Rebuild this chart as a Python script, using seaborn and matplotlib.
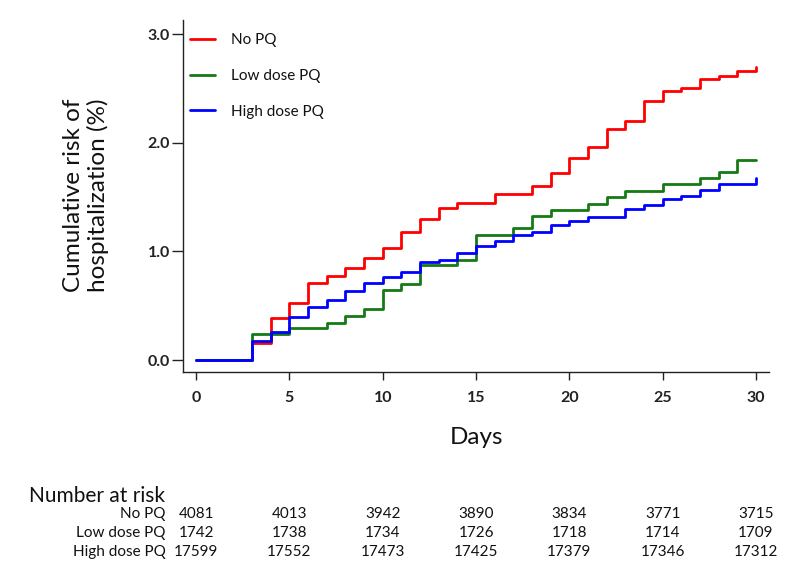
import numpy as np
import pandas as pd
import matplotlib
matplotlib.use('Agg')
from matplotlib import pyplot as plt
from matplotlib import transforms
from matplotlib.ticker import FormatStrFormatter
import seaborn as sns


# cumulative risk (%) read at the end of each day, 0..30
days = list(range(0, 31))
no_pq = [0, 0, 0, 0.153, 0.383, 0.527, 0.705, 0.773, 0.85, 0.94, 1.033,
         1.18, 1.297, 1.395, 1.45, 1.45, 1.53, 1.53, 1.606, 1.725, 1.863,
         1.965, 2.123, 2.198, 2.38, 2.475, 2.502, 2.588, 2.615, 2.66, 2.70]
low_dose = [0, 0, 0, 0.236, 0.236, 0.297, 0.297, 0.343, 0.405, 0.469, 0.642,
            0.70, 0.876, 0.876, 0.925, 1.154, 1.154, 1.215, 1.325, 1.383,
            1.383, 1.44, 1.497, 1.557, 1.557, 1.619, 1.619, 1.674, 1.73,
            1.84, 1.84]
high_dose = [0, 0, 0, 0.175, 0.26, 0.395, 0.492, 0.553, 0.638, 0.711, 0.766,
             0.812, 0.90, 0.925, 0.983, 1.053, 1.10, 1.151, 1.18, 1.24, 1.276,
             1.313, 1.319, 1.386, 1.426, 1.484, 1.512, 1.561, 1.616, 1.625,
             1.674]

groups = ['No PQ', 'Low dose PQ', 'High dose PQ']
colors = ['#ff0000', '#157a15', '#0000ff']

# number at risk table
risk_days = [0, 5, 10, 15, 20, 25, 30]
risk_no_pq = [4081, 4013, 3942, 3890, 3834, 3771, 3715]
risk_low = [1742, 1738, 1734, 1726, 1718, 1714, 1709]
risk_high = [17599, 17552, 17473, 17425, 17379, 17346, 17312]

sns.set_style('ticks')
plt.rcParams['font.family'] = ['Lato', 'DejaVu Sans']

fig = plt.figure(figsize=(8, 5.81), dpi=100)
ax = fig.add_axes([0.2288, 0.3597, 0.9613 - 0.2288, 0.9656 - 0.3597])

for name, vals, col in zip(groups, [no_pq, low_dose, high_dose], colors):
    df = pd.DataFrame({'day': days, 'risk': vals})
    sns.lineplot(data=df, x='day', y='risk', color=col, label=name,
                 drawstyle='steps-post', linewidth=2.0, ax=ax)

ax.set_xlim(-0.7, 30.7)
ax.set_ylim(-0.11, 3.13)
ax.set_xticks([0, 5, 10, 15, 20, 25, 30])
ax.set_yticks([0, 1, 2, 3])
ax.yaxis.set_major_formatter(FormatStrFormatter('%.1f'))
ax.tick_params(axis='x', length=5.5, width=1.0, pad=8, labelsize=11.5,
               colors='#222222')
ax.tick_params(axis='y', length=8, width=1.0, pad=1.5, labelsize=11.5,
               colors='#222222')
for lab in ax.get_xticklabels() + ax.get_yticklabels():
    lab.set_fontweight('bold')
for s in ['left', 'bottom']:
    ax.spines[s].set_linewidth(1.0)
    ax.spines[s].set_color('#222222')
sns.despine(ax=ax)

ax.set_xlabel('')
ax.set_ylabel('')
fig.text(86 / 800, 1 - 195 / 581, 'Cumulative risk of\nhospitalization (%)',
         rotation=90, ha='center', va='center', multialignment='center',
         fontsize=17.5, color='#111111', linespacing=1.2)
fig.text(476 / 800, 1 - 438 / 581, 'Days', ha='center', va='center',
         fontsize=17.5, color='#111111')

leg = ax.legend(loc='upper left', bbox_to_anchor=(0.012, 0.963),
                frameon=False, fontsize=11, handlelength=1.6,
                handletextpad=1.1, labelspacing=1.43, borderpad=0,
                borderaxespad=0)
for t in leg.get_texts():
    t.set_color('#111111')

# Number at risk table below the axes
fig.text(29 / 800, 1 - 502 / 581, 'Number at risk', ha='left',
         va='baseline', fontsize=15, color='#111111')
row_base = [518, 537, 556]
trans = transforms.blended_transform_factory(ax.transData, fig.transFigure)
for name, counts, yb in zip(groups, [risk_no_pq, risk_low, risk_high], row_base):
    fig.text(166 / 800, 1 - yb / 581, name, ha='right', va='baseline',
             fontsize=11, color='#111111')
    for d, n in zip(risk_days, counts):
        ax.text(d, 1 - yb / 581, str(n), transform=trans, ha='center',
                va='baseline', fontsize=11, color='#111111', clip_on=False)

plt.savefig('out.png', dpi=100)
